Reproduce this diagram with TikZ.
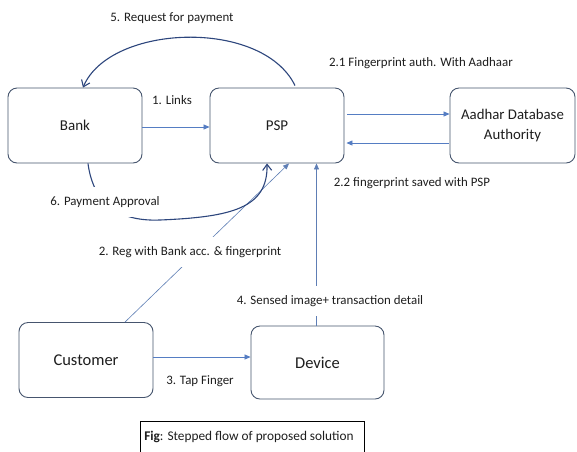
\documentclass[tikz,border=0pt]{standalone}
\usepackage{fontspec}
\setmainfont{Carlito}
\usetikzlibrary{arrows.meta}
\definecolor{boxc}{RGB}{70,85,110}
\definecolor{arrc}{RGB}{85,125,195}
\definecolor{curc}{RGB}{45,70,125}
\definecolor{txtc}{RGB}{30,30,30}
\tikzset{
  box/.style={draw=boxc, line width=0.9pt, rounded corners=9pt, minimum width=134pt, minimum height=75pt, inner sep=0pt, font=\fontsize{15}{17}\selectfont, text=txtc, align=center},
  lbl/.style={font=\fontsize{12.9}{14}\selectfont, text=txtc, inner sep=1pt},
  flow/.style={draw=arrc, line width=0.7pt, -{Triangle[length=6pt,width=5pt]}},
  hand/.style={draw=curc, line width=1.1pt, -{Straight Barb[length=6pt,width=9pt]}},
  captionbox/.style={draw=black, line width=1pt, inner sep=0pt, minimum width=224pt, minimum height=32pt, font=\fontsize{13.3}{15}\selectfont, text=txtc}
}
\begin{document}
\begin{tikzpicture}[x=1pt,y=-1pt]
\useasboundingbox[fill=white] (0,0) rectangle (577,451);
% boxes
\node[box] (bank) at (75,125.5) {Bank};
\node[box] (psp) at (277,125.5) {PSP};
\node[box, minimum width=125pt, font=\fontsize{14.8}{20}\selectfont] (aadhar) at (512.5,125.5) {Aadhar Database\\Authority};
\node[box, font=\fontsize{16.5}{18}\selectfont] (cust) at (86,360) {Customer};
\node[box, minimum width=133pt, minimum height=73pt, font=\fontsize{16.5}{18}\selectfont] (dev) at (317.5,362.5) {Device};
\node[captionbox] (caption) at (252,437) {};
\node[font=\fontsize{13.3}{15}\selectfont, text=txtc] (captext) at (249,437) {\textbf{Fig}: Stepped flow of proposed solution};
% 1. Links
\draw[flow] ([yshift=-1.5pt]bank.east) -- ([yshift=-1.5pt]psp.west);
\node[lbl] (l1) at (172,100) {1. Links};
% 2.1 / 2.2
\draw[flow, shorten <=3pt] ([yshift=11.5pt]psp.east) -- ([yshift=11.5pt]aadhar.west);
\draw[flow, shorten <=1pt, shorten >=2pt] ([yshift=-17.5pt]aadhar.west) -- ([yshift=-17.5pt]psp.east);
\node[lbl] (l21) at (421,63) {2.1 Fingerprint auth. With Aadhaar};
\node[lbl] (l22) at (412,183) {2.2 fingerprint saved with PSP};
% 2. Reg
\draw[flow, draw=arrc!80!gray, line width=0.6pt] ([xshift=39pt]cust.north) -- ([xshift=12pt]psp.south);
\node[lbl, fill=white, inner xsep=3pt, inner ysep=9pt] (l2) at (190,252) {2. Reg with Bank acc. \& fingerprint};
% 4. Sensed
\draw[flow, draw=arrc!80!gray, line width=0.6pt] ([xshift=-1pt]dev.north) -- ([xshift=-1pt]dev.north |- psp.south);
\node[lbl, fill=white, inner xsep=3pt, inner ysep=9pt] (l4) at (330,301) {4. Sensed image+ transaction detail};
% 3. Tap Finger
\draw[flow] ([yshift=3pt]cust.east) -- ([yshift=3pt]cust.east -| dev.west);
\node[lbl] (l3) at (200,381) {3. Tap Finger};
% 5. Request for payment
\draw[hand] ([xshift=18pt,yshift=2pt]psp.north) .. controls (262,18) and (110,24) .. ([xshift=8pt]bank.north);
\node[lbl] (l5) at (172,18) {5. Request for payment};
% 6. Payment Approval
\draw[hand] ([xshift=13pt]bank.south) .. controls (92,195) and (110,222) .. (160,220) .. controls (232,217) and (268,208) .. ([xshift=-10pt]psp.south);
\node[lbl, fill=white, inner xsep=6pt, inner ysep=9pt] (l6) at (105,202) {6. Payment Approval};
\end{tikzpicture}
\end{document}
